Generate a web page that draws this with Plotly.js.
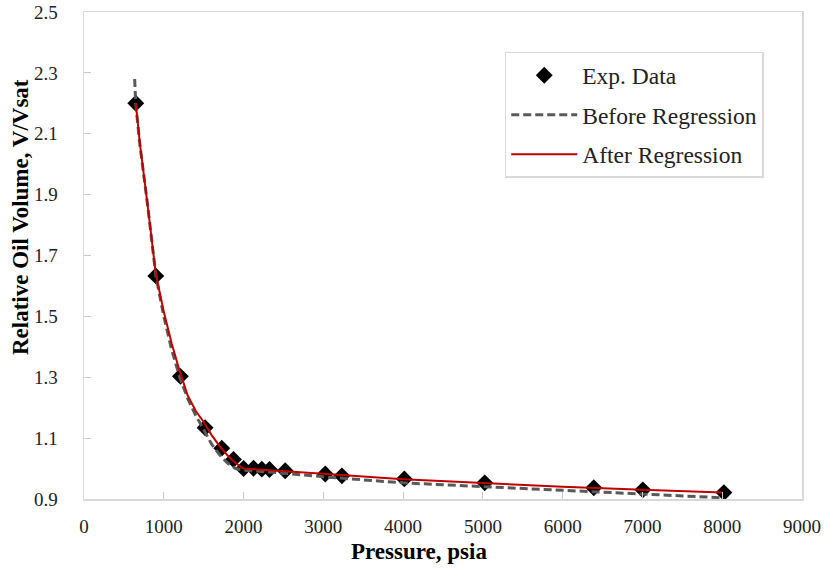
<!DOCTYPE html>
<html>
<head>
<meta charset="utf-8">
<script src="https://cdn.plot.ly/plotly-3.0.1.min.js"></script>
<style>html,body{margin:0;padding:0;background:#fff;}#chart{width:825px;height:571px;}</style>
</head>
<body>
<div id="chart"></div>
<script>
// Experimental data
const expPressure = [649, 900, 1208, 1518, 1727, 1874, 2000, 2125, 2229, 2325, 2522, 3024, 3233, 4015, 5023, 6390, 7005, 8021];
const expVolume   = [2.20, 1.633, 1.303, 1.134, 1.067, 1.030, 1.000, 1.001, 0.998, 0.997, 0.993, 0.982, 0.976, 0.966, 0.953, 0.937, 0.930, 0.921];

// Before regression (model prediction)
const beforePressure = [635, 648, 700, 800, 900, 1000, 1100, 1200, 1300, 1400, 1500, 1600, 1700, 1800, 1900, 2000, 2500, 3000, 4000, 5000, 6000, 7000, 8000];
const beforeVolume   = [2.28, 2.20, 2.065, 1.86, 1.635, 1.50, 1.39, 1.30, 1.23, 1.175, 1.128, 1.08, 1.045, 1.018, 1.0, 0.995, 0.985, 0.973, 0.953, 0.941, 0.928, 0.916, 0.904];

// After regression (model prediction)
const afterPressure = [649, 700, 800, 900, 1000, 1100, 1200, 1300, 1400, 1500, 1600, 1700, 1800, 1900, 2000, 2500, 3000, 4000, 5000, 6000, 7000, 8000];
const afterVolume   = [2.20, 2.07, 1.86, 1.64, 1.515, 1.41, 1.32, 1.24, 1.19, 1.153, 1.11, 1.074, 1.043, 1.018, 1.0, 0.992, 0.983, 0.965, 0.952, 0.94, 0.93, 0.921];

const seriesNames = ['Exp. Data', 'Before Regression', 'After Regression'];
const axisTitles = {x: 'Pressure, psia', y: 'Relative Oil Volume, V/Vsat'};

const serif = '"Liberation Serif", "Times New Roman", serif';

const traces = [
  {x: expPressure, y: expVolume, name: seriesNames[0], mode: 'markers', type: 'scatter',
   legendgroup: 'a',
   marker: {symbol: 'diamond', size: 13, color: '#000000'}},
  {x: beforePressure, y: beforeVolume, name: seriesNames[1], mode: 'lines', type: 'scatter',
   legendgroup: 'b',
   line: {color: '#595959', width: 3, dash: '8px,4px'}},
  {x: afterPressure, y: afterVolume, name: seriesNames[2], mode: 'lines', type: 'scatter',
   legendgroup: 'c',
   line: {color: '#c00000', width: 2}}
];

const axisCommon = {
  showgrid: false, zeroline: false, showline: true, mirror: true,
  linecolor: '#d9d9d9', linewidth: 1.5,
  ticks: 'inside', ticklen: 7, tickcolor: '#c8c8c8', tickwidth: 1,
  tickfont: {family: serif, size: 19, color: '#222222'}
};

const layout = {
  width: 825, height: 571,
  margin: {l: 84, r: 23, t: 12, b: 72},
  paper_bgcolor: '#ffffff', plot_bgcolor: '#ffffff',
  showlegend: true,
  legend: {
    x: 0.586, y: 0.918, xanchor: 'left', yanchor: 'top',
    bgcolor: '#ffffff', bordercolor: '#d9d9d9', borderwidth: 1.5,
    font: {family: serif, size: 23.5, color: '#222222'},
    traceorder: 'grouped', tracegroupgap: 6, itemwidth: 66
  },
  xaxis: Object.assign({}, axisCommon, {
    range: [0, 9000], dtick: 1000, tick0: 0, tickformat: 'd', ticklabelstandoff: 10
  }),
  yaxis: Object.assign({}, axisCommon, {
    range: [0.9, 2.5], dtick: 0.2, tick0: 0.9, tickformat: '.1f', ticklabelstandoff: 21
  }),
  annotations: [
    {text: '<b>' + axisTitles.x + '</b>', xref: 'paper', yref: 'paper', x: 0.4666, y: -0.108,
     xanchor: 'center', yanchor: 'middle', showarrow: false,
     font: {family: serif, size: 23, color: '#000000'}},
    {text: '<b>' + axisTitles.y + '</b>', xref: 'paper', yref: 'paper', x: -0.0891, y: 0.579,
     xanchor: 'center', yanchor: 'middle', showarrow: false, textangle: -90,
     font: {family: serif, size: 23, color: '#000000'}}
  ]
};

Plotly.newPlot('chart', traces, layout, {staticPlot: true, displayModeBar: false});
</script>
</body>
</html>
